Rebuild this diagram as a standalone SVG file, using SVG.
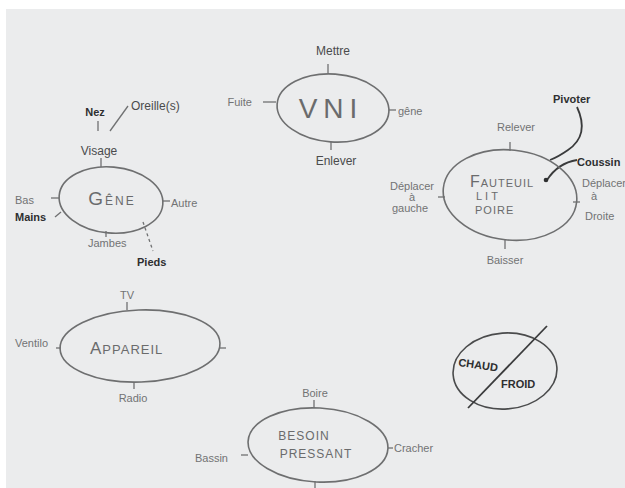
<svg xmlns="http://www.w3.org/2000/svg" width="625" height="488" viewBox="0 0 625 488">
<style>
.el{fill:none;stroke:#6e6f70;stroke-width:1.6}
.ln{fill:none;stroke:#707172;stroke-width:1.3}
.dk{fill:none;stroke:#3a3b3c;stroke-width:1.8}
text{font-family:"Liberation Sans","DejaVu Sans",sans-serif}
.lt{fill:#727374;font-size:11px}
.md{fill:#4a4b4c;font-size:12px}
.bd{fill:#2e2f30;font-size:11px;font-weight:bold}
.big{fill:#6a6b6c}
</style>
<rect x="0" y="0" width="625" height="488" fill="#ffffff"/>
<rect x="6" y="9" width="619" height="479" fill="#ebeced"/>
<g id="connectors">
<path class="ln" d="M328 64 V73"/>
<path class="ln" d="M263 102 H276"/>
<path class="ln" d="M389 110 H396"/>
<path class="ln" d="M331 142 V150"/>
<path class="ln" d="M101 158 V167"/>
<path class="ln" d="M98 121 V131"/>
<path class="ln" d="M110 131 L128 106"/>
<path class="ln" d="M51 198 H59"/>
<path class="ln" d="M55 217 L61 212"/>
<path class="ln" d="M163 201 H170"/>
<path class="ln" d="M106 231 V237"/>
<path class="ln" d="M143 222 L153 251" stroke-dasharray="3 3"/>
<path class="ln" d="M510 142 V151"/>
<path class="ln" d="M438 197 H445"/>
<path class="ln" d="M573 202 H580"/>
<path class="ln" d="M505 239 V249"/>
<path class="dk" d="M577 107 Q590 135 568 150 Q558 157 550 160"/>
<path class="dk" d="M577 160 Q558 163 547 180"/>
<circle cx="546" cy="180" r="2.3" fill="#2e2f30"/>
<path class="ln" d="M127 302 V310"/>
<path class="ln" d="M56 348 H61"/>
<path class="ln" d="M219 348 H226"/>
<path class="ln" d="M134 382 V389"/>
<path class="ln" d="M314 400 V408"/>
<path class="ln" d="M241 455 H248"/>
<path class="ln" d="M388 448 H393"/>
<path class="ln" d="M315 481 V488"/>
</g>
<g id="node-vni">
<ellipse class="el" cx="333" cy="108" rx="56" ry="34" transform="rotate(4 333 108)"/>
<text x="331" y="118" text-anchor="middle" class="big" font-size="28" letter-spacing="6">VNI</text>
</g>
<g id="label-mettre"><text x="333" y="55" text-anchor="middle" class="md" font-size="14">Mettre</text></g>
<g id="label-fuite"><text x="252" y="106" text-anchor="end" class="lt">Fuite</text></g>
<g id="label-gene-vni"><text x="398" y="115" class="lt" font-size="12">gêne</text></g>
<g id="label-enlever"><text x="336" y="165" text-anchor="middle" class="md" font-size="13">Enlever</text></g>
<g id="node-gene">
<ellipse class="el" cx="111" cy="200" rx="52" ry="33" transform="rotate(5 111 200)"/>
<text x="112" y="205" text-anchor="middle" class="big" letter-spacing="2"><tspan font-size="19">G</tspan><tspan font-size="12">ÊNE</tspan></text>
</g>
<g id="label-visage"><text x="99" y="155" text-anchor="middle" class="md" font-size="13">Visage</text></g>
<g id="label-nez"><text x="95" y="116" text-anchor="middle" class="bd" font-size="10">Nez</text></g>
<g id="label-oreilles"><text x="131" y="110" class="md" font-size="11">Oreille(s)</text></g>
<g id="label-bas"><text x="15" y="204" class="lt">Bas</text></g>
<g id="label-mains"><text x="15" y="221" class="bd">Mains</text></g>
<g id="label-autre"><text x="171" y="207" class="lt">Autre</text></g>
<g id="label-jambes"><text x="88" y="247" class="lt">Jambes</text></g>
<g id="label-pieds"><text x="137" y="266" class="bd">Pieds</text></g>
<g id="node-fauteuil">
<ellipse class="el" cx="510" cy="195" rx="67" ry="45" transform="rotate(6 510 195)"/>
<text x="470" y="187" class="big" letter-spacing="1"><tspan font-size="16">F</tspan><tspan font-size="11">AUTEUIL</tspan></text>
<text x="476" y="200" class="big" font-size="11" letter-spacing="3">LIT</text>
<text x="475" y="214" class="big" font-size="11" letter-spacing="1">POIRE</text>
</g>
<g id="label-relever"><text x="516" y="131" text-anchor="middle" class="lt" font-size="12">Relever</text></g>
<g id="label-deplacer-gauche"><text x="412" y="190" text-anchor="middle" class="lt">Déplacer</text><text x="412" y="201" text-anchor="middle" class="lt" font-size="10">à</text><text x="410" y="212" text-anchor="middle" class="lt">gauche</text></g>
<g id="label-deplacer-droite"><text x="582" y="187" class="lt" font-size="9.5">Déplacer</text><text x="591" y="200" class="lt" font-size="10">à</text><text x="585" y="220" class="lt">Droite</text></g>
<g id="label-baisser"><text x="505" y="264" text-anchor="middle" class="lt">Baisser</text></g>
<g id="label-pivoter"><text x="553" y="103" class="bd" font-size="15">Pivoter</text></g>
<g id="label-coussin"><text x="577" y="166" class="bd" font-size="12">Coussin</text></g>
<g id="node-appareil">
<ellipse class="el" cx="140" cy="346" rx="80" ry="36" transform="rotate(-2 140 346)"/>
<text x="90" y="354" class="big" letter-spacing="1"><tspan font-size="17">A</tspan><tspan font-size="13">PPAREIL</tspan></text>
</g>
<g id="label-tv"><text x="127" y="299" text-anchor="middle" class="lt" font-size="12">TV</text></g>
<g id="label-ventilo"><text x="15" y="347" class="lt" font-size="11">Ventilo</text></g>
<g id="label-radio"><text x="133" y="402" text-anchor="middle" class="lt" font-size="10">Radio</text></g>
<g id="node-besoin">
<ellipse class="el" cx="318" cy="445" rx="70" ry="37" transform="rotate(3 318 445)"/>
<text x="304" y="440" text-anchor="middle" class="big" font-size="12" letter-spacing="1">BESOIN</text>
<text x="316" y="458" text-anchor="middle" class="big" font-size="12" letter-spacing="1">PRESSANT</text>
</g>
<g id="label-boire"><text x="315" y="397" text-anchor="middle" class="lt" font-size="10">Boire</text></g>
<g id="label-bassin"><text x="228" y="462" text-anchor="end" class="lt" font-size="10">Bassin</text></g>
<g id="label-cracher"><text x="394" y="452" class="lt" font-size="10">Cracher</text></g>
<g id="node-chaud-froid">
<ellipse class="el" cx="505" cy="371" rx="52" ry="38" transform="rotate(-4 505 371)" style="stroke:#4a4b4c"/>
<path class="dk" d="M468 408 L547 326"/>
<text x="458" y="366" class="bd" transform="rotate(8 458 366)">CHAUD</text>
<text x="501" y="388" class="bd">FROID</text>
</g>
</svg>
